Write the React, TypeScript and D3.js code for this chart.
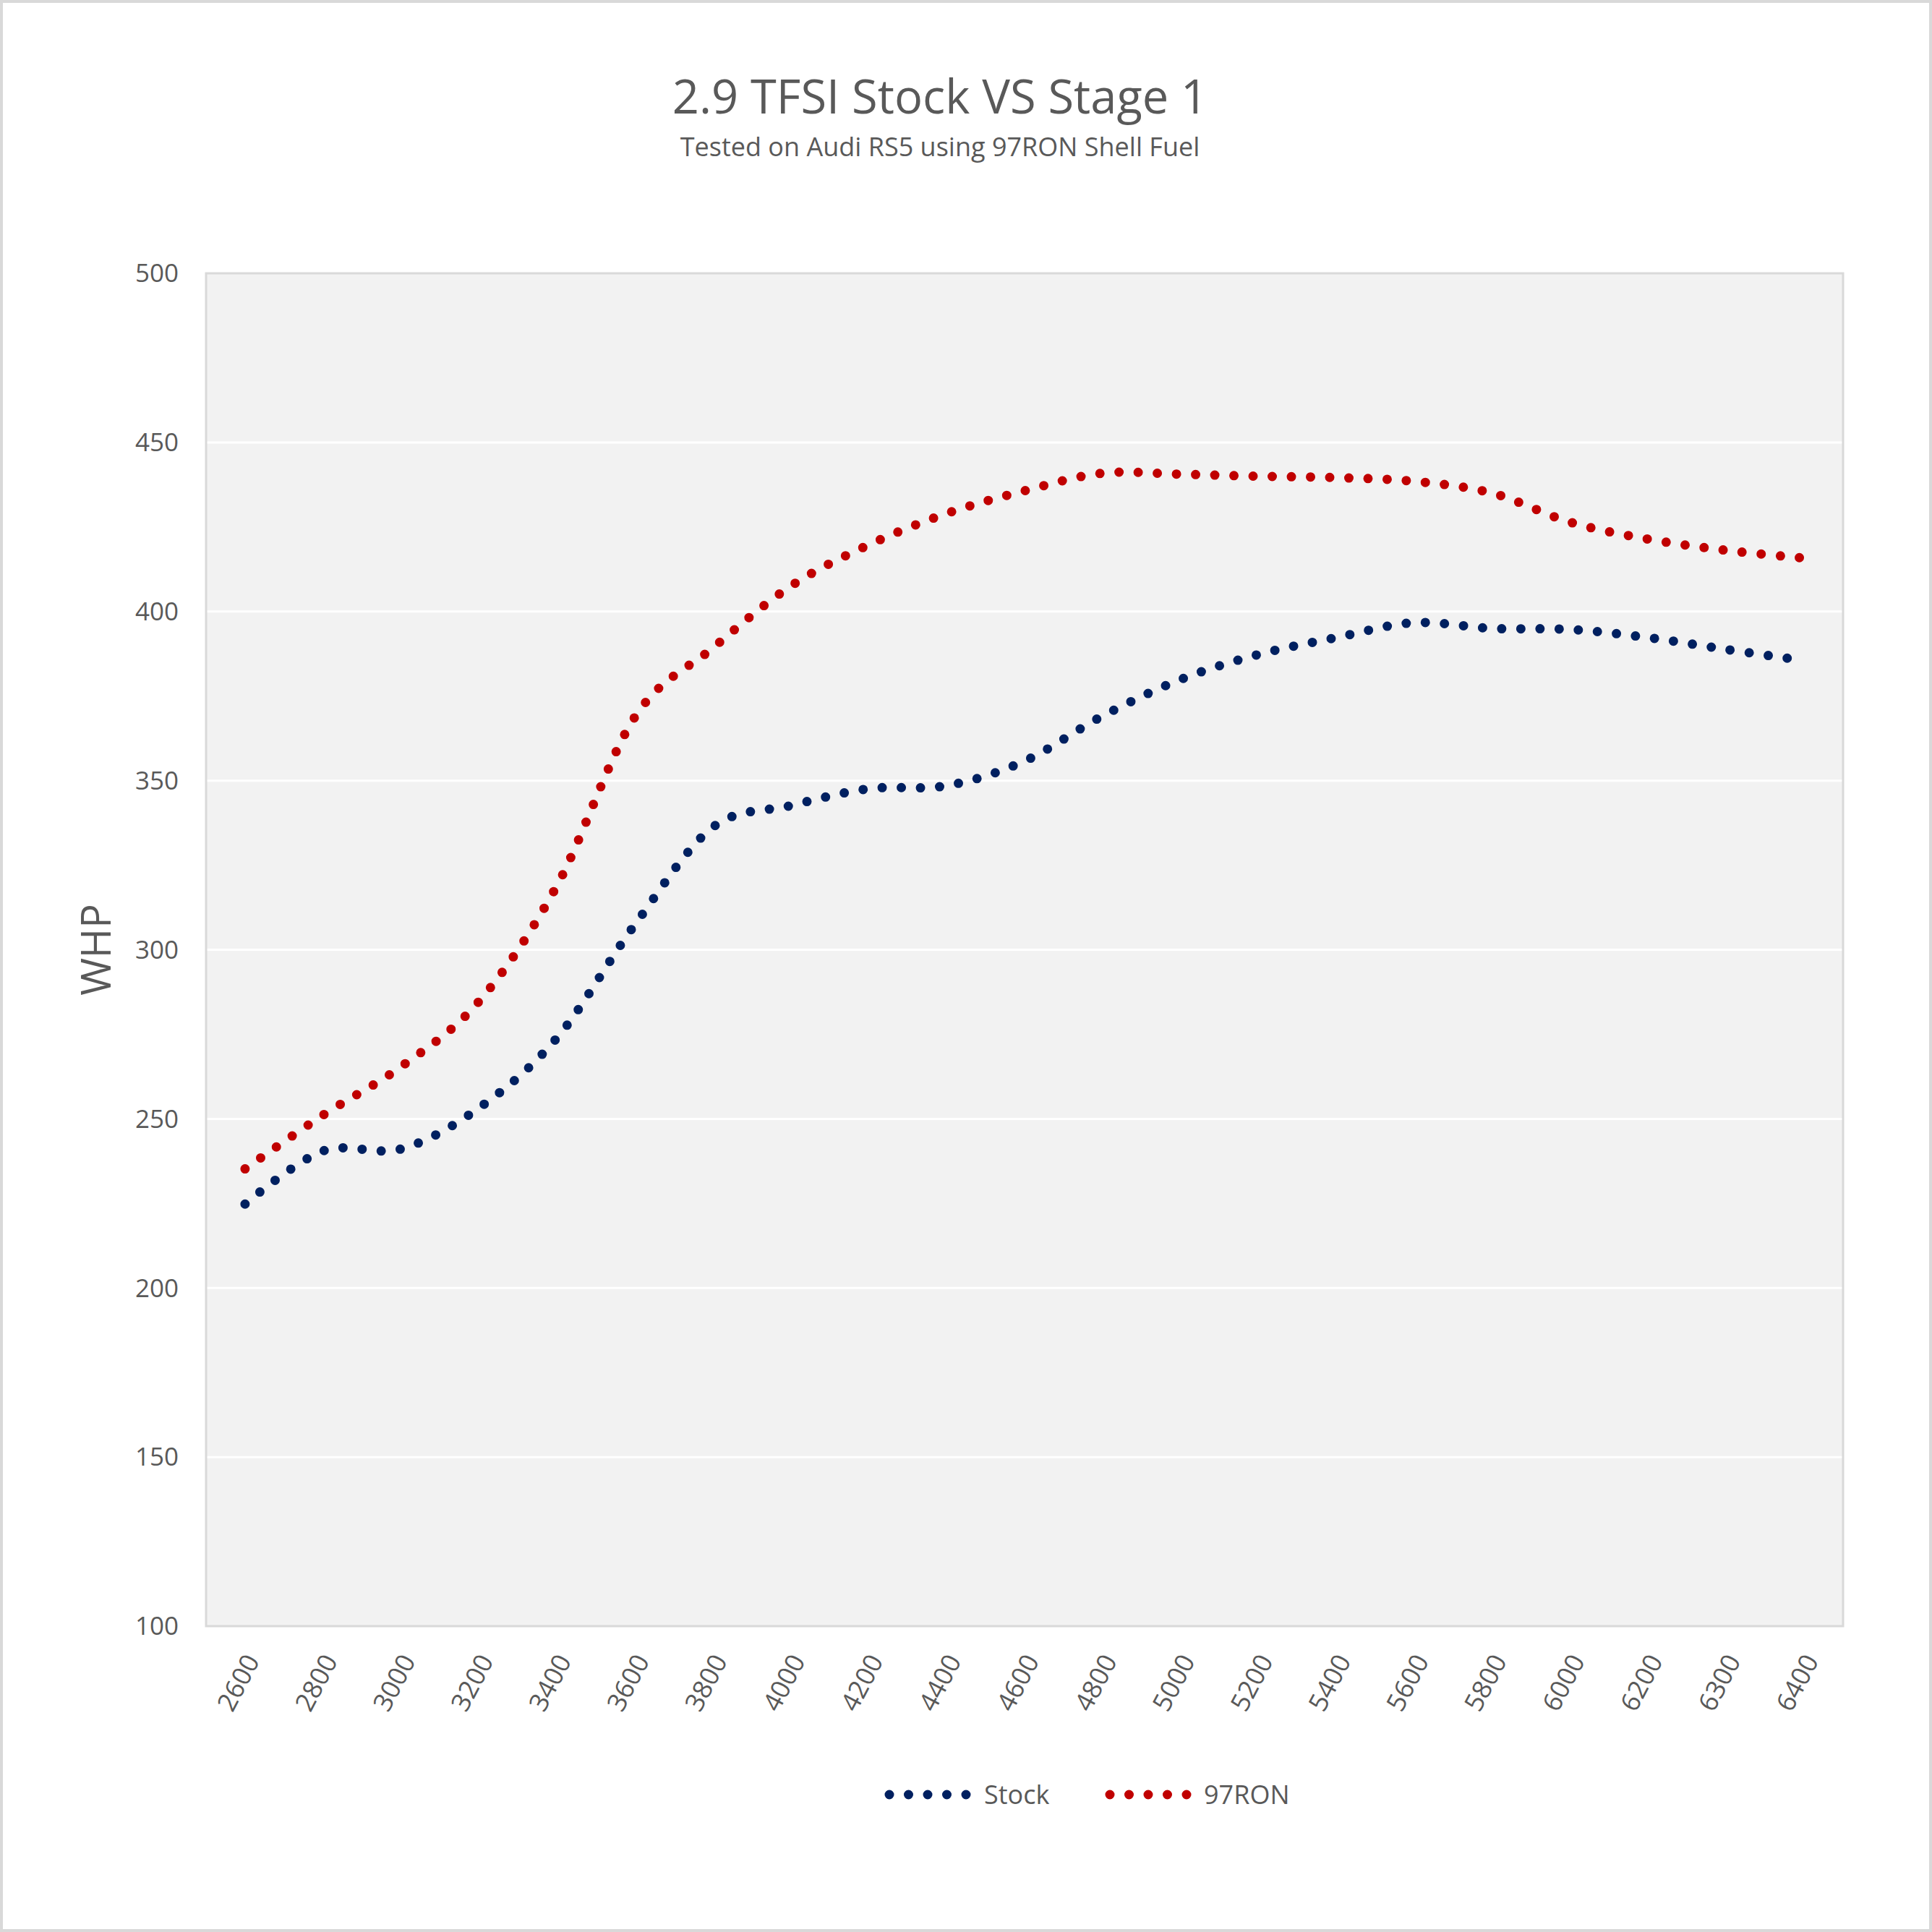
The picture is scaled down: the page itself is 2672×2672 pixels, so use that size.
import { useEffect, useRef } from 'react';
import * as d3 from 'd3';

const RPM = [
  '2600', '2800', '3000', '3200', '3400', '3600', '3800', '4000', '4200', '4400', '4600',
  '4800', '5000', '5200', '5400', '5600', '5800', '6000', '6200', '6300', '6400',
];
const STOCK = [
  224.8, 240.5, 241.1, 253.2, 273.9, 307.4, 336.2, 342.6, 347.6, 348.5, 355.8,
  369.1, 379.9, 387.3, 392.3, 396.7, 395.0, 394.7, 392.3, 388.8, 385.5,
];
const RON97 = [
  235.2, 251.1, 265.4, 284.7, 318.9, 368.8, 389.2, 407.5, 419.7, 429.0, 435.7,
  440.9, 440.6, 440.0, 439.6, 438.5, 435.0, 426.4, 421.4, 418.1, 415.8,
];
const Y_TICKS = [100, 150, 200, 250, 300, 350, 400, 450, 500];

const SERIES = [
  { name: 'Stock', values: STOCK, color: '#002060' },
  { name: '97RON', values: RON97, color: '#c00000' },
];

const W = 2672;
const H = 2672;
const FONT = '"Open Sans", "Noto Sans", sans-serif';
const TEXT = '#595959';
const DOT_W = 13;
const DOT_GAP = 26.5;

export default function App() {
  const svgRef = useRef<SVGSVGElement>(null);

  useEffect(() => {
    const svg = d3.select(svgRef.current);
    if (!svg.node()) return;
    svg.selectAll('*').remove();

    const margin = { top: 378, right: W - 2549, bottom: H - 2249, left: 285 };

    svg.append('rect')
      .attr('x', 2).attr('y', 2)
      .attr('width', W - 4).attr('height', H - 4)
      .attr('fill', '#ffffff')
      .attr('stroke', '#d9d9d9')
      .attr('stroke-width', 4);

    const x = d3.scaleBand<string>()
      .domain(RPM)
      .range([margin.left, W - margin.right])
      .padding(0);
    const cx = (i: number) => x(RPM[i])! + x.bandwidth() / 2;
    const y = d3.scaleLinear().domain([100, 500]).range([H - margin.bottom, margin.top]);

    // plot area
    svg.append('rect')
      .attr('x', margin.left).attr('y', margin.top)
      .attr('width', W - margin.left - margin.right)
      .attr('height', H - margin.top - margin.bottom)
      .attr('fill', '#f2f2f2');

    svg.append('g')
      .selectAll('line')
      .data(Y_TICKS.slice(1, -1))
      .join('line')
      .attr('x1', margin.left).attr('x2', W - margin.right)
      .attr('y1', (d) => y(d)).attr('y2', (d) => y(d))
      .attr('stroke', '#ffffff')
      .attr('stroke-width', 3);

    svg.append('rect')
      .attr('x', margin.left).attr('y', margin.top)
      .attr('width', W - margin.left - margin.right)
      .attr('height', H - margin.top - margin.bottom)
      .attr('fill', 'none')
      .attr('stroke', '#d9d9d9')
      .attr('stroke-width', 3);

    // y axis labels
    svg.append('g')
      .selectAll('text')
      .data(Y_TICKS)
      .join('text')
      .attr('x', 247)
      .attr('y', (d) => y(d))
      .attr('dy', '0.35em')
      .attr('text-anchor', 'end')
      .attr('font-family', FONT)
      .attr('font-size', 35)
      .attr('fill', TEXT)
      .text((d) => d);

    // x axis labels
    svg.append('g')
      .selectAll('text')
      .data(RPM)
      .join('text')
      .attr('transform', (d, i) => `translate(${cx(i) + 10},${H - margin.bottom + 42}) rotate(-62)`)
      .attr('dy', '0.35em')
      .attr('text-anchor', 'end')
      .attr('font-family', FONT)
      .attr('font-size', 36)
      .attr('fill', TEXT)
      .text((d) => d);

    // lines
    const line = d3.line<number>()
      .x((d, i) => cx(i))
      .y((d) => y(d))
      .curve(d3.curveCatmullRom.alpha(0));

    SERIES.forEach((s) => {
      svg.append('path')
        .datum(s.values)
        .attr('fill', 'none')
        .attr('stroke', s.color)
        .attr('stroke-width', DOT_W)
        .attr('stroke-linecap', 'round')
        .attr('stroke-dasharray', `0 ${DOT_GAP}`)
        .attr('d', line);
    });

    // titles
    svg.append('text')
      .attr('x', 1300).attr('y', 157)
      .attr('text-anchor', 'middle')
      .attr('font-family', FONT)
      .attr('font-size', 65)
      .attr('fill', TEXT)
      .text('2.9 TFSI Stock VS Stage 1');

    svg.append('text')
      .attr('x', 1300).attr('y', 216)
      .attr('text-anchor', 'middle')
      .attr('font-family', FONT)
      .attr('font-size', 36)
      .attr('fill', TEXT)
      .text('Tested on Audi RS5 using 97RON Shell Fuel');

    svg.append('text')
      .attr('transform', `translate(153,${(margin.top + H - margin.bottom) / 2}) rotate(-90)`)
      .attr('text-anchor', 'middle')
      .attr('font-family', FONT)
      .attr('font-size', 56)
      .attr('fill', TEXT)
      .text('WHP');

    // legend
    const legendY = 2482;
    const legendItems = [
      { s: SERIES[0], x0: 1230, tx: 1361 },
      { s: SERIES[1], x0: 1535, tx: 1665 },
    ];
    legendItems.forEach(({ s, x0, tx }) => {
      svg.append('line')
        .attr('x1', x0).attr('x2', x0 + DOT_GAP * 4 + 0.5)
        .attr('y1', legendY).attr('y2', legendY)
        .attr('stroke', s.color)
        .attr('stroke-width', DOT_W)
        .attr('stroke-linecap', 'round')
        .attr('stroke-dasharray', `0 ${DOT_GAP}`);
      svg.append('text')
        .attr('x', tx).attr('y', legendY)
        .attr('dy', '0.35em')
        .attr('font-family', FONT)
        .attr('font-size', 36)
        .attr('fill', TEXT)
        .text(s.name);
    });
  }, []);

  return (
    <svg
      ref={svgRef}
      width={W}
      height={H}
      viewBox={`0 0 ${W} ${H}`}
      style={{ position: 'absolute', left: 0, top: 0, display: 'block' }}
    />
  );
}
